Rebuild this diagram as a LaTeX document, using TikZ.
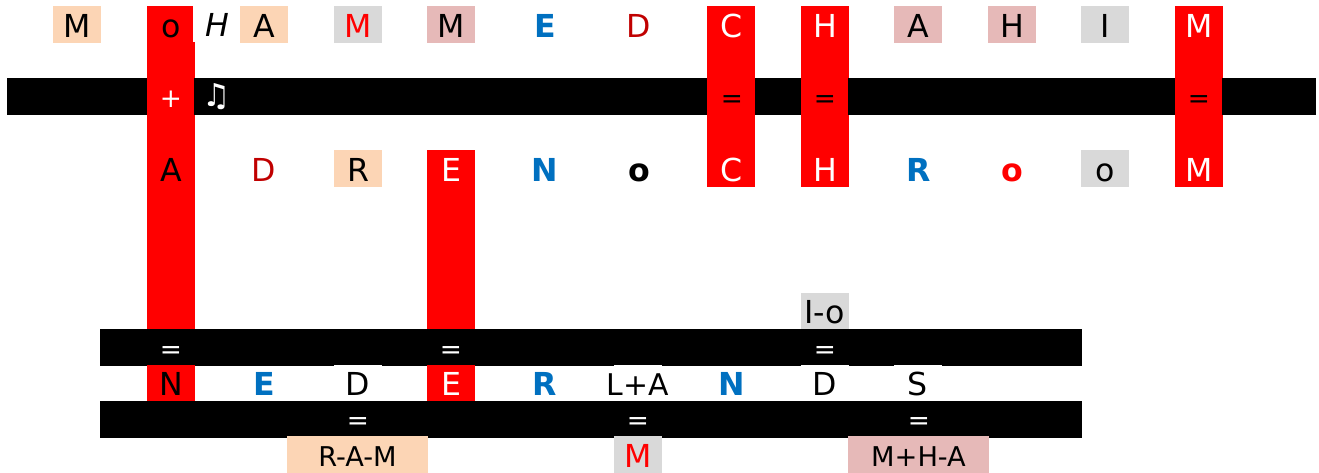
\documentclass[tikz,border=0pt]{standalone}
\usepackage{fontspec}
\setmainfont{DejaVu Sans}
\definecolor{peach}{HTML}{FCD5B5}
\definecolor{lightgrey}{HTML}{D9D9D9}
\definecolor{pink}{HTML}{E6B9B8}
\definecolor{darkred}{HTML}{C00000}
\definecolor{blueletter}{HTML}{0070C0}
\begin{document}
\begin{tikzpicture}[
        x=0.02cm, y=-0.02cm,
        block/.style={inner sep=0pt, minimum width=0.96cm, minimum height=0.74cm, text height=0.63cm, text depth=0.11cm, font=\fontsize{18}{20}\selectfont},
        bar/.style={fill=black, inner sep=0pt, minimum height=0.74cm},
        column/.style={fill=red, inner sep=0pt, minimum width=0.96cm},
        sign/.style={inner sep=0pt, font=\fontsize{15}{17}\selectfont},
        wide/.style={block, minimum width=2.82cm, text height=0.60cm, text depth=0.14cm, font=\fontsize{15.5}{17}\selectfont}
    ]
        \useasboundingbox (0, 0) rectangle (1319, 473);

        % Red columns
        \node[column, minimum height=6.46cm] (colo) at (171, 167.5) {};
        \node[column, minimum height=3.62cm] (colc) at (731, 96.5) {};
        \node[column, minimum height=3.62cm] (colh) at (825, 96.5) {};
        \node[column, minimum height=3.62cm] (colm) at (1199, 96.5) {};
        \node[column, minimum height=3.58cm] (cole) at (451, 239.5) {};

        % Upper bar
        \node[bar, minimum width=2.80cm, anchor=west] (barleft) at (7, 96.5) {};
        \node[bar, minimum width=10.26cm, anchor=west] (barmid) at (194, 96.5) {};
        \node[bar, minimum width=0.92cm, anchor=west] (barc) at (755, 96.5) {};
        \node[bar, minimum width=6.54cm, anchor=west] (barh) at (848, 96.5) {};
        \node[bar, minimum width=1.88cm, anchor=west] (barright) at (1222, 96.5) {};

        % Lower bars
        \node[bar, minimum width=19.64cm, anchor=west] (barthree) at (100, 347.5) {};
        \node[bar, minimum width=19.64cm, anchor=west] (barfour) at (100, 419.5) {};

        % First name
        \node[block, fill=peach] (m1) at (77, 24.5) {M};
        \node[block] (o1) at (171, 24.5) {o};
        \node[block, fill=white, text=black] (h1) at (217, 24) {\itshape H};
        \node[block, fill=peach] (a1) at (264, 24.5) {A};
        \node[block, fill=lightgrey, text=red] (m2) at (358, 24.5) {M};
        \node[block, fill=pink] (m3) at (451, 24.5) {M};
        \node[block, text=blueletter] (e1) at (545, 24.5) {\bfseries E};
        \node[block, text=darkred] (d1) at (639, 24.5) {D};
        \node[block, text=white] (c1) at (732, 24.5) {C};
        \node[block, text=white] (h2) at (825, 24.5) {H};
        \node[block, fill=pink] (a2) at (918, 24.5) {A};
        \node[block, fill=pink] (h3) at (1012, 24.5) {H};
        \node[block, fill=lightgrey] (i1) at (1105, 24.5) {I};
        \node[block, text=white] (m4) at (1199, 24.5) {M};

        % Signs on the upper bar
        \node[sign, text=white] (plus) at (171, 99) {+};
        \node[sign, text=white, font=\fontsize{18}{20}\selectfont] (note) at (217, 97) {♫};
        \node[sign] (eqc) at (732, 102) {=};
        \node[sign] (eqh) at (825, 102) {=};
        \node[sign] (eqm) at (1199, 102) {=};

        % Second name
        \node[block] (a3) at (171, 168.5) {A};
        \node[block, text=darkred] (d2) at (264, 168.5) {D};
        \node[block, fill=peach] (r1) at (358, 168.5) {R};
        \node[block, text=white] (e2) at (451, 168.5) {E};
        \node[block, text=blueletter] (n1) at (545, 168.5) {\bfseries N};
        \node[block] (o2) at (639, 168.5) {\bfseries o};
        \node[block, text=white] (c2) at (732, 168.5) {C};
        \node[block, text=white] (h4) at (825, 168.5) {H};
        \node[block, text=blueletter] (r2) at (919, 168.5) {\bfseries R};
        \node[block, text=red] (o3) at (1012, 168.5) {\bfseries o};
        \node[block, fill=lightgrey] (o4) at (1105, 168.5) {o};
        \node[block, text=white] (m5) at (1199, 168.5) {M};

        % Above the third bar
        \node[block, fill=lightgrey] (io) at (825, 311) {\makebox[0pt]{I-o}};
        \node[sign, text=white] (eqo) at (171, 353) {=};
        \node[sign, text=white] (eqe) at (451, 353) {=};
        \node[sign, text=white] (eqd) at (825, 353) {=};

        % Result
        \node[block, fill=red] (n2) at (171, 383) {N};
        \node[block, text=blueletter] (e3) at (264, 383) {\bfseries E};
        \node[block, fill=white] (d3) at (358, 383) {D};
        \node[block, fill=red, text=white] (e4) at (451, 383) {E};
        \node[block, text=blueletter] (r3) at (545, 383) {\bfseries R};
        \node[block, fill=white] (la) at (638, 383) {\makebox[0pt]{\fontsize{17}{19}\selectfont L+A}};
        \node[block, text=blueletter] (n3) at (732, 383) {\bfseries N};
        \node[block, fill=white] (d4) at (825, 383) {D};
        \node[block, fill=white] (s1) at (918, 383) {S};

        % Bottom row
        \node[sign, text=white] (eqram) at (358, 424) {=};
        \node[sign, text=white] (eqla) at (638, 424) {=};
        \node[sign, text=white] (eqs) at (919, 424) {=};
        \node[wide, fill=peach] (ram) at (357.5, 454.5) {R-A-M};
        \node[block, fill=lightgrey, text=red] (m6) at (638, 454.5) {M};
        \node[wide, fill=pink] (mha) at (918.5, 454.5) {M+H-A};
    \end{tikzpicture}
\end{document}
